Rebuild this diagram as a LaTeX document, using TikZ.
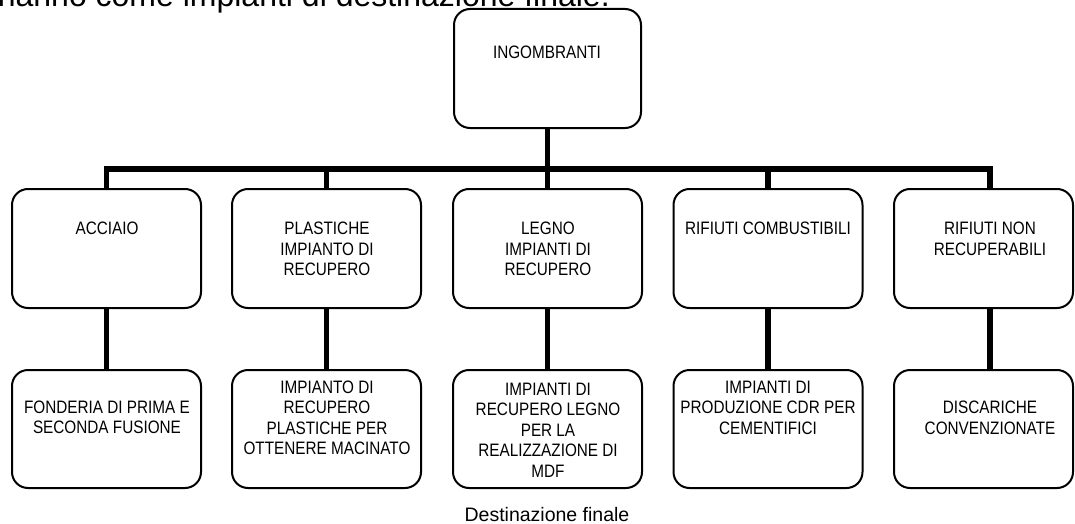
\documentclass[tikz,border=0pt]{standalone}
\usepackage{fontspec}
\setmainfont{Liberation Sans}
\newfontfamily\narrowfont[FakeStretch=0.85]{Liberation Sans}
\begin{document}
\begin{tikzpicture}[x=1pt,y=-1pt,
  box/.style={draw=black, line width=2pt, rounded corners=16pt, inner sep=0pt,
    minimum width=189pt, minimum height=119pt},
  txt/.style={font=\narrowfont\fontsize{18}{20.5}\selectfont, align=center, inner sep=0pt},
  conn/.style={draw=black, line width=5.5pt, line join=miter}]
\useasboundingbox (0,0) rectangle (1075,524);
\clip (0,0) rectangle (1075,524);
% intro text (cut off at top)
\node[anchor=base east, inner sep=0pt, font=\fontsize{32}{38}\selectfont] (intro) at (610,7) {hanno come impianti di destinazione finale.};
% boxes
\node[box, minimum width=187pt, minimum height=119pt] (top) at (547.5,68.5) {};
\node[box] (r1) at (106.5,248.5) {};
\node[box] (r2) at (326.5,248.5) {};
\node[box] (r3) at (547.5,248.5) {};
\node[box] (r4) at (768,248.5) {};
\node[box, minimum width=179pt] (r5) at (983.5,248.5) {};
\node[box, minimum height=118pt] (d1) at (106.5,429) {};
\node[box, minimum height=118pt] (d2) at (326.5,429) {};
\node[box, minimum height=118pt] (d3) at (547.5,429) {};
\node[box, minimum height=118pt] (d4) at (768,429) {};
\node[box, minimum width=179pt, minimum height=118pt] (d5) at (983.5,429) {};
% texts
\node[txt] (ttop) at (547,52) {INGOMBRANTI};
\node[txt] (t1) at (107,228) {ACCIAIO};
\node[txt] (t2) at (327,249) {PLASTICHE\\IMPIANTO DI\\RECUPERO};
\node[txt] (t3) at (548,249) {LEGNO\\IMPIANTI DI\\RECUPERO};
\node[txt] (t4) at (768,228) {RIFIUTI COMBUSTIBILI};
\node[txt] (t5) at (990,239) {RIFIUTI NON\\RECUPERABILI};
\node[txt] (u1) at (107,417.5) {FONDERIA DI PRIMA E\\SECONDA FUSIONE};
\node[txt] (u2) at (327,418) {IMPIANTO DI\\RECUPERO\\PLASTICHE PER\\OTTENERE MACINATO};
\node[txt] (u3) at (548,430) {IMPIANTI DI\\RECUPERO LEGNO\\PER LA\\REALIZZAZIONE DI\\MDF};
\node[txt] (u4) at (768,407.5) {IMPIANTI DI\\PRODUZIONE CDR PER\\CEMENTIFICI};
\node[txt] (u5) at (990,418) {DISCARICHE\\CONVENZIONATE};
% caption
\node[anchor=base, inner sep=0pt, font=\fontsize{19.5}{22}\selectfont] (cap) at (547,521) {Destinazione finale};
% connectors
\coordinate (barR) at (990,169);
\draw[conn] (r1.north) |- (barR) -- (barR |- r5.north);
\draw[conn] (top.south) -- (top.south |- barR);
\draw[conn] (r2.north) -- (r2.north |- barR);
\draw[conn] (r3.north) -- (r3.north |- barR);
\draw[conn] (r4.north) -- (r4.north |- barR);
\draw[conn] (r1.south) -- (d1.north);
\draw[conn] (r2.south) -- (d2.north);
\draw[conn] (r3.south) -- (d3.north);
\draw[conn] (r4.south) -- (d4.north);
\draw[conn] (r5.south -| barR) -- (d5.north -| barR);
\end{tikzpicture}
\end{document}
